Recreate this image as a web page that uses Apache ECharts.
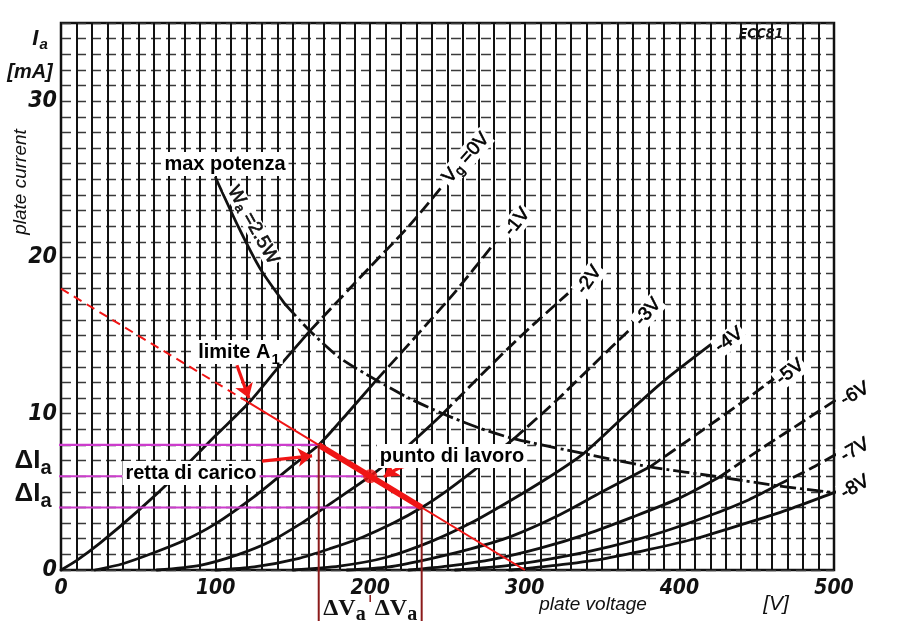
<!DOCTYPE html>
<html><head><meta charset="utf-8">
<script src="https://cdn.jsdelivr.net/npm/echarts@6/dist/echarts.min.js"></script>
<style>html,body{margin:0;padding:0;background:#fff;}#chart{width:897px;height:635px;}</style>
</head><body><div id="chart"></div>
<script>
// ---------- data ----------
const xTicks = [0, 100, 200, 300, 400, 500];
const yTicks = [0, 10, 20, 30];
const curveNames = ['Vg=0V', '-1V', '-2V', '-3V', '-4V', '-5V', '-6V', '-7V', '-8V'];
const vg0 = [[0,0],[10,0.6],[25,1.7],[50,3.8],[75,6.1],[100,8.6],[121.5,10.7],[140,12.9],[161,15.3],[180,17.3],[200,19.4],[225,22.0],[247,24.6]];
const vg1 = [[22,0],[40,0.4],[60,1.1],[80,1.9],[99,2.9],[125,4.7],[150,6.7],[166.7,8.0],[185,10.0],[204,12.15],[230,15.0],[255,17.8],[281,21.0]];
const vg2 = [[62,0],[90,0.3],[115,1.0],[135,1.8],[154,2.9],[175,4.3],[200,6.0],[225,8.0],[247,10.0],[275,12.8],[300,15.2],[328,17.7]];
const vg3 = [[100,0],[125,0.2],[154,0.75],[175,1.4],[195,2.1],[215,3.0],[233.3,4.0],[250,5.1],[270,6.6],[293,8.4],[320,10.8],[345,13.2],[367,15.3]];
const vg4 = [[150,0],[180,0.25],[210,0.8],[240,1.85],[265,3.0],[290,4.4],[315,5.9],[338,7.45],[365,9.9],[390,12.1],[420,14.4]];
const vg5 = [[185,0],[212,0.2],[240,0.75],[265,1.35],[290,2.1],[322,3.5],[350,5.0],[381,6.6],[410,8.6],[440,10.7],[462,12.3]];
const vg6 = [[225,0],[250,0.25],[280,0.7],[310,1.4],[340,2.3],[370,3.4],[400,4.6],[426,5.95],[455,7.9],[480,9.5],[503,11.0]];
const vg7 = [[255,0],[290,0.3],[322,0.8],[355,1.5],[388,2.4],[420,3.5],[445,4.5],[463,5.4],[485,6.5],[503,7.5]];
const vg8 = [[290,0],[320,0.3],[350,0.7],[380,1.3],[410,2.0],[440,2.9],[470,3.85],[500,4.95],[503,5.05]];
const dashFrom = [161, 204, 247, 293, null, 381, 426, 463, null];
const maxPower = [[100,25.1],[115,21.9],[128.7,19.3],[145,17.0],[161,15.3],[180,13.6],[204,12.15],[225,11.0],[247,10.0],[270,9.1],[293,8.4],[338,7.45],[381,6.6],[426,5.95],[463,5.4],[500,4.95]];
const maxPowerDashFrom = 145;
const loadStart = [0, 18];
const loadEnd = [300, 0];
const limitA1 = [121.5, 10.71];
const swingTop = [166.7, 8];
const workPoint = [200, 6];
const swingBottom = [233.3, 4];
const arrowLimit = [[113.8, 13.1], [121.5, 11.0]];
const arrowLoad = [[130, 6.97], [162.4, 7.3]];
const arrowWork = [[243.2, 6.65], [209, 5.95]];

// ---------- styling ----------
const NARROW = '"Liberation Sans Narrow","DejaVu Sans Condensed","Liberation Sans",sans-serif';
const SANS = '"Liberation Sans",Arial,sans-serif';
const SERIF = '"Liberation Serif","Times New Roman",serif';
const INK = '#111';
const RED = '#f01515';
const MAGENTA = '#cc3ccc';
const DARKRED = '#8b1a1a';

const chart = echarts.init(document.getElementById('chart'), null, {renderer: 'canvas'});
const curves = [vg0, vg1, vg2, vg3, vg4, vg5, vg6, vg7, vg8];
const series = [];
function lineSeries(data, style, z) {
  return {type: 'line', data: data, showSymbol: false, smooth: 0.25, clip: false,
          silent: true, animation: false, lineStyle: Object.assign({cap: 'round', join: 'round'}, style), z: z || 3};
}
curves.forEach((c, i) => {
  const d = dashFrom[i];
  const solid = d == null ? c : c.filter(p => p[0] <= d);
  series.push(lineSeries(solid, {color: INK, width: 2.8}));
  if (d != null) series.push(lineSeries(c.filter(p => p[0] >= d), {color: INK, width: 2.8, type: [13, 5], cap: 'butt'}));
});
series.push(lineSeries(maxPower.filter(p => p[0] <= maxPowerDashFrom), {color: INK, width: 2.8}));
series.push(lineSeries(maxPower.filter(p => p[0] >= maxPowerDashFrom), {color: INK, width: 2.8, type: [16, 4, 3, 4], cap: 'butt'}));
// load line
const straight = (data, style, z) => ({type: 'line', data: data, showSymbol: false, clip: false, silent: true, animation: false, lineStyle: style, z: z || 5});
series.push(straight([[-2, swingTop[1]], swingTop], {color: MAGENTA, width: 2.2}, 4));
series.push(straight([[-2, workPoint[1]], workPoint], {color: MAGENTA, width: 2.2}, 4));
series.push(straight([[-2, swingBottom[1]], swingBottom], {color: MAGENTA, width: 2.2}, 4));
series.push(straight([loadStart, limitA1], {color: RED, width: 2, type: [9, 6]}));
series.push(straight([limitA1, loadEnd], {color: RED, width: 2}));
series.push(straight([swingTop, swingBottom], {color: RED, width: 6}));
series.push({type: 'scatter', data: [workPoint], symbolSize: 14, itemStyle: {color: RED}, z: 6, silent: true, animation: false});
series.push({type: 'lines', coordinateSystem: 'cartesian2d', polyline: false, silent: true, animation: false, z: 7,
  symbol: ['none', 'arrow'], symbolSize: 14,
  lineStyle: {color: RED, width: 3.2, curveness: 0, opacity: 1},
  data: [{coords: arrowLimit}, {coords: arrowLoad}]});
series.push({type: 'lines', coordinateSystem: 'cartesian2d', silent: true, animation: false, z: 7,
  symbol: ['none', 'arrow'], symbolSize: 14,
  lineStyle: {color: RED, width: 3.2, curveness: -0.25, opacity: 1},
  data: [{coords: arrowWork}]});

const axisFont = {fontFamily: NARROW, fontStyle: 'italic', fontWeight: 'bold', fontSize: 21, color: INK};
const option = {
  animation: false,
  backgroundColor: '#fff',
  grid: {left: 61, right: 63, top: 23, bottom: 65, show: true, borderColor: INK, borderWidth: 2.5, backgroundColor: 'transparent'},
  xAxis: {type: 'value', min: 0, max: 500, interval: 10,
    axisLine: {show: false}, axisTick: {show: false},
    splitLine: {show: true, lineStyle: {color: INK, width: 2}},
    axisLabel: Object.assign({margin: 8, formatter: v => xTicks.includes(v) ? String(v) : ''}, axisFont)},
  yAxis: {type: 'value', min: 0, max: 35, interval: 1,
    axisLine: {show: false}, axisTick: {show: false},
    splitLine: {show: true, lineStyle: {color: '#3a3a3a', width: 1.3, type: [10, 5]}},
    axisLabel: Object.assign({margin: 4, formatter: v => yTicks.includes(v) ? String(v) : ''}, axisFont, {fontSize: 23})},
  series: series
};
chart.setOption(option);

// ---------- annotations ----------
const px = p => chart.convertToPixel({gridIndex: 0}, p);
const g = [];
function text(x, y, t, style, rot) {
  g.push({type: 'text', x: x, y: y, rotation: rot || 0, z: 50, silent: true,
    style: Object.assign({text: t, fill: INK, align: 'center', verticalAlign: 'middle'}, style)});
}
const boxLabel = {font: 'bold 20px ' + SANS, fill: '#000', backgroundColor: '#fff', padding: [2, 3, 2, 3]};
text(225, 164, 'max potenza', boxLabel);
text(239, 352, '{m|limite A}{s|1}', Object.assign({}, boxLabel, {rich: {
  m: {fontFamily: SANS, fontWeight: 'bold', fontSize: 20, lineHeight: 20, verticalAlign: 'top'},
  s: {fontFamily: SANS, fontWeight: 'bold', fontSize: 15, lineHeight: 15, padding: [10, 0, 0, 1], verticalAlign: 'top'}}}));
text(191, 473, 'retta di carico', boxLabel);
text(452, 456, 'punto di lavoro', boxLabel);

// axis titles
text(40, 39, '{m|I}{s|a}', {rich: {
  m: {fontFamily: SANS, fontStyle: 'italic', fontWeight: 'bold', fontSize: 22, lineHeight: 22, verticalAlign: 'top'},
  s: {fontFamily: SANS, fontStyle: 'italic', fontWeight: 'bold', fontSize: 15, lineHeight: 15, padding: [9, 0, 0, 1], verticalAlign: 'top'}}});
text(30, 72, '[mA]', {font: 'italic bold 20px ' + SANS});
text(21, 182, 'plate current', {font: 'italic 19px ' + SANS}, Math.PI / 2);
text(593, 605, 'plate voltage', {font: 'italic 19px ' + SANS});
text(776, 604, '[V]', {font: 'italic 21px ' + SANS});
text(761, 34, 'ECC81', {font: 'italic bold 14px ' + NARROW});

// curve labels
const lblStyle = {font: '19px ' + SANS, fill: '#000', stroke: '#000', lineWidth: 0.6, backgroundColor: '#fff', padding: [1, 2, 1, 2]};
const labelPos = [[466,158,0.85],[517,222,0.9],[589,280,0.95],[648,312,0.85],[729,340,0.62],[790,372,0.66],[855,394,0.5],[855,450,0.52],[855,487,0.52]];
curveNames.forEach((n, i) => {
  const p = labelPos[i];
  if (i === 0) {
    text(p[0], p[1], '{m|V}{s|g}{m| =0V}', Object.assign({}, lblStyle, {rich: {
      m: {fontFamily: SANS, fontSize: 19, lineHeight: 19, verticalAlign: 'top', textStrokeColor: '#000', textStrokeWidth: 0.6},
      s: {fontFamily: SANS, fontSize: 14, lineHeight: 14, padding: [7, 0, 0, 0], verticalAlign: 'top', textStrokeColor: '#000', textStrokeWidth: 0.6}}}), p[2]);
  } else {
    text(p[0], p[1], n, lblStyle, p[2]);
  }
});
text(253, 225, '{m|W}{s|a}{m| =2.5W}', {backgroundColor: '#fff', padding: [0, 2, 0, 2], stroke: '#000', lineWidth: 0.6, rich: {
  m: {fontFamily: SANS, fontSize: 19, lineHeight: 19, verticalAlign: 'top', textStrokeColor: '#000', textStrokeWidth: 0.6},
  s: {fontFamily: SANS, fontSize: 13, lineHeight: 13, padding: [7, 0, 0, 0], verticalAlign: 'top', textStrokeColor: '#000', textStrokeWidth: 0.6}}}, -1.06);

// magenta delta I labels
const dI = {rich: {
  m: {fontFamily: SANS, fontWeight: 'bold', fontSize: 26, lineHeight: 26, color: MAGENTA, verticalAlign: 'top'},
  s: {fontFamily: SANS, fontWeight: 'bold', fontSize: 20, lineHeight: 20, color: MAGENTA, padding: [10, 0, 0, 0], verticalAlign: 'top'}}};
text(33, 461, '{m|ΔI}{s|a}', dI);
text(33, 494, '{m|ΔI}{s|a}', dI);

// dark red voltage swing markers
const pt = px(swingTop), pw = px(workPoint), pb = px(swingBottom);
[pt, pb].forEach(a => g.push({type: 'line', z: 8, silent: true, shape: {x1: a[0], y1: a[1], x2: a[0], y2: 621}, style: {stroke: DARKRED, lineWidth: 2}}));
g.push({type: 'line', z: 8, silent: true, shape: {x1: pw[0], y1: 595, x2: pw[0], y2: 602}, style: {stroke: DARKRED, lineWidth: 1.5}});
const dV = {rich: {
  m: {fontFamily: SERIF, fontWeight: 'bold', fontSize: 24, lineHeight: 24, color: DARKRED, verticalAlign: 'top'},
  s: {fontFamily: SERIF, fontWeight: 'bold', fontSize: 20, lineHeight: 20, color: DARKRED, padding: [8, 0, 0, 0], verticalAlign: 'top'}}};
text((pt[0] + pw[0]) / 2, 609, '{m|ΔV}{s|a}', dV);
text((pw[0] + pb[0]) / 2, 609, '{m|ΔV}{s|a}', dV);

chart.setOption({graphic: g});
</script>
</body></html>
